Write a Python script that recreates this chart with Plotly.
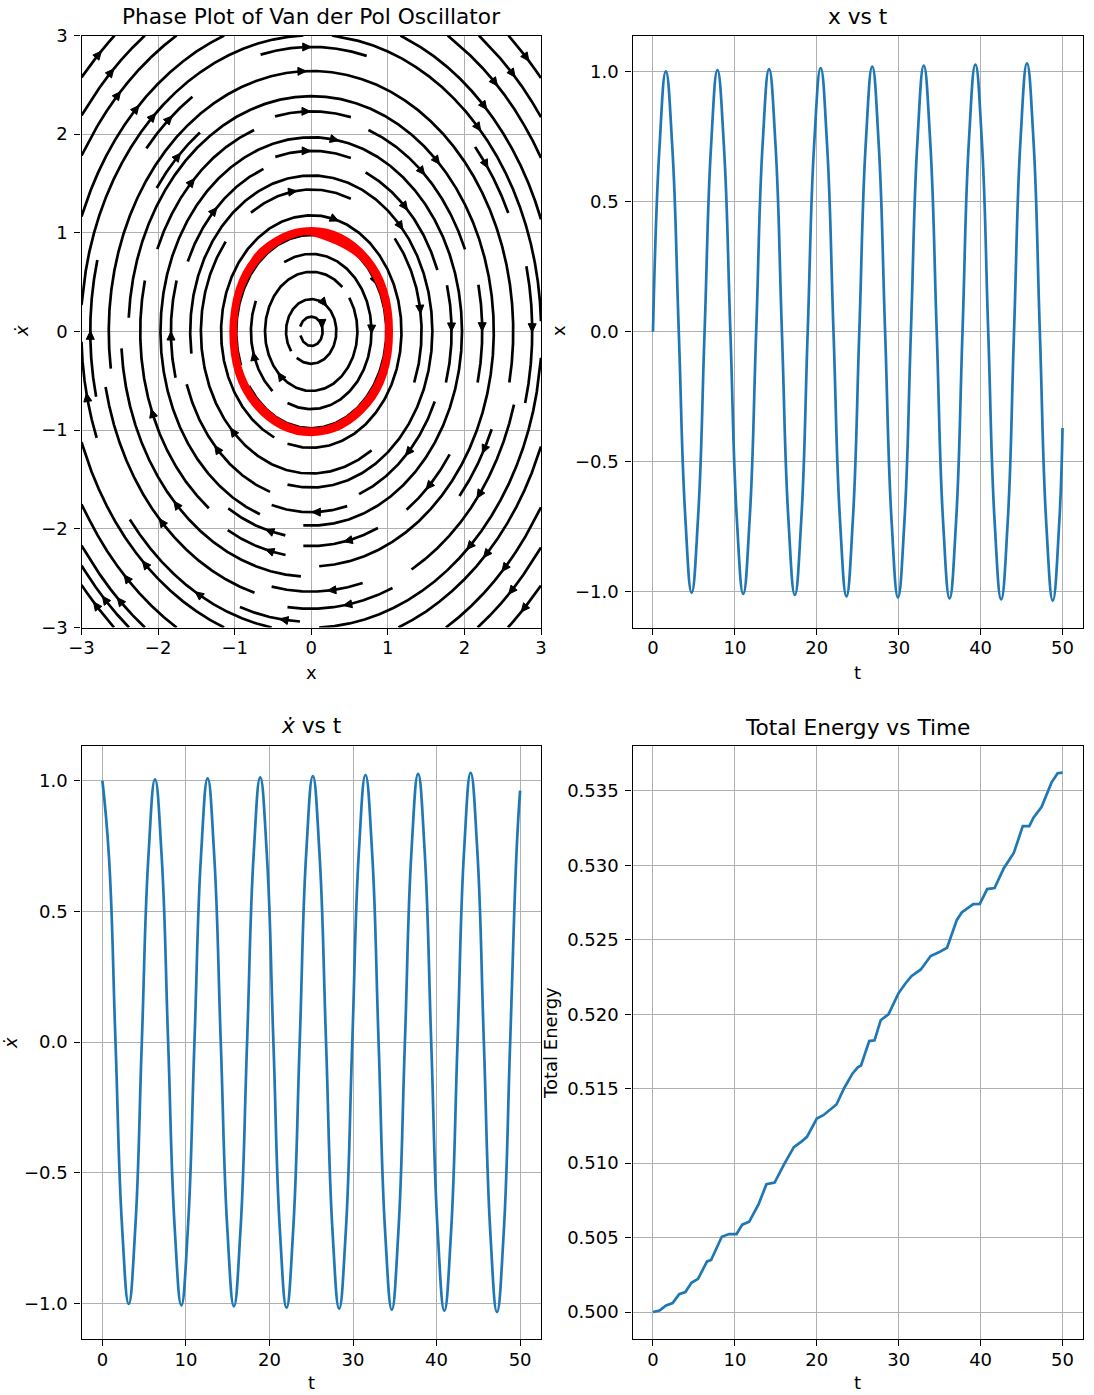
import numpy as np
import plotly.graph_objects as go

# ------------------------------------------------------------------ data
t_vals = [0.00, 0.79, 1.57, 2.36, 3.15, 3.94, 4.72, 5.51,
          6.30, 7.09, 7.87, 8.66, 9.45, 10.23, 11.02, 11.81,
          12.60, 13.38, 14.17, 14.96, 15.74, 16.53, 17.32, 18.11,
          18.89, 19.68, 20.47, 21.25, 22.04, 22.83, 23.62, 24.40,
          25.19, 25.98, 26.77, 27.55, 28.34, 29.13, 29.91, 30.70,
          31.49, 32.28, 33.06, 33.85, 34.64, 35.42, 36.21, 37.00,
          37.79, 38.57, 39.36, 40.15, 40.93, 41.72, 42.51, 43.30,
          44.08, 44.87, 45.66, 46.45, 47.23, 48.02, 48.81, 49.59, 50.00]

x_vals = [0.000, 0.707, 1.001, 0.709, 0.000, -0.710, -1.003, -0.711,
          0.000, 0.713, 1.006, 0.714, 0.000, -0.715, -1.008, -0.716,
          0.000, 0.717, 1.010, 0.718, 0.000, -0.719, -1.012, -0.720,
          0.000, 0.721, 1.014, 0.722, 0.000, -0.723, -1.017, -0.724,
          0.000, 0.725, 1.019, 0.726, 0.000, -0.727, -1.021, -0.728,
          0.000, 0.729, 1.023, 0.730, 0.000, -0.731, -1.025, -0.732,
          0.000, 0.733, 1.027, 0.734, 0.000, -0.735, -1.029, -0.736,
          0.000, 0.737, 1.032, 0.738, 0.000, -0.739, -1.034, -0.740, -0.370]

xdot_vals = [1.000, 0.707, 0.000, -0.709, -1.002, -0.710, 0.000, 0.711,
             1.005, 0.713, 0.000, -0.714, -1.007, -0.715, 0.000, 0.716,
             1.009, 0.717, 0.000, -0.718, -1.011, -0.719, 0.000, 0.720,
             1.013, 0.721, 0.000, -0.722, -1.016, -0.723, 0.000, 0.724,
             1.018, 0.725, 0.000, -0.726, -1.020, -0.727, 0.000, 0.728,
             1.022, 0.729, 0.000, -0.730, -1.024, -0.731, 0.000, 0.732,
             1.026, 0.733, 0.000, -0.734, -1.028, -0.735, 0.000, 0.736,
             1.030, 0.737, 0.000, -0.738, -1.033, -0.739, 0.000, 0.740, 0.962]

energy_t = [0.0, 0.8, 1.6, 2.4, 3.2, 3.95, 4.7, 5.5, 6.6, 7.1, 8.4, 9.3, 10.2,
            10.9, 11.75, 12.9, 13.85, 14.85, 16.0, 17.2, 18.2, 18.8, 20.0,
            20.8, 22.4, 23.35, 24.35, 25.0, 25.4, 26.4, 27.05, 27.8, 28.75,
            29.95, 30.75, 31.55, 32.7, 33.9, 34.9, 35.9, 37.1, 37.7, 39.1,
            39.9, 40.8, 41.7, 42.85, 44.05, 45.15, 45.95, 46.45, 47.45, 48.65,
            49.4, 50.0]
energy_vals = [0.5000, 0.5001, 0.50045, 0.5006, 0.5012, 0.50134, 0.50196,
               0.50223, 0.5034, 0.5035, 0.50506, 0.50524, 0.50524, 0.50587,
               0.50607, 0.50725, 0.50859, 0.5087, 0.50992, 0.51108, 0.51148,
               0.51177, 0.5130, 0.51322, 0.51394, 0.51505, 0.51601, 0.51644,
               0.51656, 0.5182, 0.51825, 0.5196, 0.5200, 0.52139, 0.52202,
               0.52256, 0.52301, 0.52391, 0.52416, 0.52447, 0.52634, 0.52684,
               0.5274, 0.52742, 0.52841, 0.52848, 0.52983, 0.53084, 0.53264,
               0.53264, 0.5332, 0.53394, 0.53556, 0.53619, 0.53623]

# Van der Pol vector field for the phase portrait
MU = 0.002
field_x = np.linspace(-3, 3, 100)
field_y = np.linspace(-3, 3, 100)

phase_ticks = [-3, -2, -1, 0, 1, 2, 3]
time_ticks = [0, 10, 20, 30, 40, 50]
amp_ticks = [-1.0, -0.5, 0.0, 0.5, 1.0]
energy_ticks = [0.500, 0.505, 0.510, 0.515, 0.520, 0.525, 0.530, 0.535]

# ------------------------------------------------------------------ layout geometry
W, H = 1094, 1395
LEFT = (81.5, 541.0)
RIGHT = (632.5, 1083.0)
TOP = (35.5, 627.5)
BOT = (746.0, 1339.0)


def xdom(c):
    return [c[0] / W, c[1] / W]


def ydom(r):
    return [1 - r[1] / H, 1 - r[0] / H]


# ------------------------------------------------------------------ streamlines (matplotlib-style algorithm)
class _Terminate(Exception):
    pass


class _OutOfBounds(Exception):
    pass


class _Invalid(Exception):
    pass


def compute_streamlines(xv, yv, u, v, density=1.0, minlength=0.1, maxlength=4.0):
    nx, ny = len(xv), len(yv)
    ddx, ddy = xv[1] - xv[0], yv[1] - yv[0]
    mnx = mny = int(30 * density)
    mask = np.zeros((mny, mnx))
    x_g2m = (mnx - 1) / (nx - 1)
    y_g2m = (mny - 1) / (ny - 1)
    ug = u / ddx
    vg = v / ddy
    speed = np.sqrt((ug / (nx - 1)) ** 2 + (vg / (ny - 1)) ** 2)
    st = {"traj": [], "cur": None}

    def within(xi, yi):
        return 0 <= xi <= nx - 1 and 0 <= yi <= ny - 1

    def interp(a, xi, yi):
        x = int(xi)
        y = int(yi)
        xn = x if x == nx - 1 else x + 1
        yn = y if y == ny - 1 else y + 1
        xt = xi - x
        yt = yi - y
        a0 = a[y, x] * (1 - xt) + a[y, xn] * xt
        a1 = a[yn, x] * (1 - xt) + a[yn, xn] * xt
        return a0 * (1 - yt) + a1 * yt

    def g2m(xi, yi):
        return round(xi * x_g2m), round(yi * y_g2m)

    def upd(xm, ym):
        if st["cur"] != (xm, ym):
            if mask[ym, xm] == 0:
                st["traj"].append((ym, xm))
                mask[ym, xm] = 1
                st["cur"] = (xm, ym)
            else:
                raise _Invalid

    def fwd(xi, yi):
        if not within(xi, yi):
            raise _OutOfBounds
        s = interp(speed, xi, yi)
        if s == 0:
            raise _Terminate
        return interp(ug, xi, yi) / s, interp(vg, xi, yi) / s

    def bwd(xi, yi):
        a, b = fwd(xi, yi)
        return -a, -b

    def euler(traj, f):
        xi, yi = traj[-1]
        cx, cy = f(xi, yi)
        if cx == 0:
            dsx = np.inf
        elif cx < 0:
            dsx = xi / -cx
        else:
            dsx = (nx - 1 - xi) / cx
        if cy == 0:
            dsy = np.inf
        elif cy < 0:
            dsy = yi / -cy
        else:
            dsy = (ny - 1 - yi) / cy
        ds = min(dsx, dsy)
        traj.append((xi + cx * ds, yi + cy * ds))
        return ds, traj

    def rk12(x0, y0, f):
        maxerror = 0.003
        maxds = min(1.0 / mnx, 1.0 / mny, 0.1)
        ds = maxds
        stotal = 0.0
        xi, yi = x0, y0
        traj = []
        while True:
            try:
                if within(xi, yi):
                    traj.append((xi, yi))
                else:
                    raise _OutOfBounds
                k1x, k1y = f(xi, yi)
                k2x, k2y = f(xi + ds * k1x, yi + ds * k1y)
            except _OutOfBounds:
                if traj:
                    d, traj = euler(traj, f)
                    stotal += d
                break
            except _Terminate:
                break
            dx1, dy1 = ds * k1x, ds * k1y
            dx2, dy2 = ds * 0.5 * (k1x + k2x), ds * 0.5 * (k1y + k2y)
            error = np.hypot((dx2 - dx1) / (nx - 1), (dy2 - dy1) / (ny - 1))
            if error < maxerror:
                xi += dx2
                yi += dy2
                try:
                    if not within(xi, yi):
                        raise _Invalid
                    upd(*g2m(xi, yi))
                except _Invalid:
                    break
                if stotal + ds > maxlength:
                    break
                stotal += ds
            if error == 0:
                ds = maxds
            else:
                ds = min(maxds, 0.85 * ds * (maxerror / error) ** 0.5)
        return stotal, traj

    def integrate(x0, y0):
        st["traj"] = []
        st["cur"] = None
        try:
            upd(*g2m(x0, y0))
        except _Invalid:
            return None
        stotal = 0.0
        xy = []
        s, t = rk12(x0, y0, bwd)
        stotal += s
        xy += t[::-1]
        st["cur"] = g2m(x0, y0)
        s, t = rk12(x0, y0, fwd)
        stotal += s
        xy += t[1:]
        if stotal > minlength:
            return np.array(xy)
        for (a, b) in st["traj"]:
            mask[a, b] = 0
        return None

    def starts(nxm, nym):
        xfirst, yfirst = 0, 1
        xlast, ylast = nxm - 1, nym - 1
        x, y = 0, 0
        direction = "right"
        for _ in range(nxm * nym):
            yield x, y
            if direction == "right":
                x += 1
                if x >= xlast:
                    xlast -= 1
                    direction = "up"
            elif direction == "up":
                y += 1
                if y >= ylast:
                    ylast -= 1
                    direction = "left"
            elif direction == "left":
                x -= 1
                if x <= xfirst:
                    xfirst += 1
                    direction = "down"
            else:
                y -= 1
                if y <= yfirst:
                    yfirst += 1
                    direction = "right"

    out = []
    for xm, ym in starts(mnx, mny):
        if mask[ym, xm] == 0:
            xg, yg = xm / x_g2m, ym / y_g2m
            t = integrate(xg, yg)
            if t is not None:
                out.append((t[:, 0] * ddx + xv[0], t[:, 1] * ddy + yv[0]))
    return out


FX, FY = np.meshgrid(field_x, field_y)
FU = FY
FV = MU * (1 - FX ** 2) * FY - FX
trajs = compute_streamlines(field_x, field_y, FU, FV)

sx, sy = [], []
ax_, ay_ = [], []
pxx = (LEFT[1] - LEFT[0]) / 6.0   # pixels per data unit in x
pxy = (TOP[1] - TOP[0]) / 6.0     # pixels per data unit in y
for tx, ty in trajs:
    sx += list(tx) + [None]
    sy += list(ty) + [None]
    s = np.cumsum(np.hypot(np.diff(tx), np.diff(ty)))
    n = int(np.searchsorted(s, s[-1] / 2.0))
    tail = np.array([tx[n], ty[n]])
    head = np.array([np.mean(tx[n:n + 2]), np.mean(ty[n:n + 2])])
    d = (head - tail) * np.array([pxx, -pxy])
    L = np.hypot(*d)
    if L == 0:
        continue
    u = d / L
    perp = np.array([-u[1], u[0]])
    tip = -2.5 * u
    base = tip - 8.5 * u
    pts = [tip, base + 4.0 * perp, base - 4.0 * perp, tip]
    for p in pts:
        ax_.append(head[0] + p[0] / pxx)
        ay_.append(head[1] - p[1] / pxy)
    ax_.append(None)
    ay_.append(None)

# ------------------------------------------------------------------ figure
BLUE = "#1f77b4"
FONT = "DejaVu Sans"
TICK_SIZE = 18
TITLE_SIZE = 21.7
fig = go.Figure()

fig.add_trace(go.Scatter(x=sx, y=sy, mode="lines", line=dict(color="black", width=2.7),
                         xaxis="x", yaxis="y", hoverinfo="skip", showlegend=False))
fig.add_trace(go.Scatter(x=ax_, y=ay_, mode="lines", fill="toself", fillcolor="black",
                         line=dict(color="black", width=1), xaxis="x", yaxis="y",
                         hoverinfo="skip", showlegend=False))
fig.add_trace(go.Scatter(x=x_vals, y=xdot_vals, mode="lines",
                         line=dict(color="red", width=5.5, shape="spline", smoothing=1.15),
                         xaxis="x", yaxis="y", showlegend=False))
fig.add_trace(go.Scatter(x=t_vals, y=x_vals, mode="lines",
                         line=dict(color=BLUE, width=2.7, shape="spline", smoothing=1.3),
                         xaxis="x2", yaxis="y2", showlegend=False))
fig.add_trace(go.Scatter(x=t_vals, y=xdot_vals, mode="lines",
                         line=dict(color=BLUE, width=2.7, shape="spline", smoothing=1.3),
                         xaxis="x3", yaxis="y3", showlegend=False))
fig.add_trace(go.Scatter(x=energy_t, y=energy_vals, mode="lines",
                         line=dict(color=BLUE, width=2.7),
                         xaxis="x4", yaxis="y4", showlegend=False))

common = dict(showline=True, mirror=True, linecolor="black", linewidth=1.4,
              ticks="outside", ticklen=6, tickwidth=1.4, tickcolor="black",
              showgrid=True, gridcolor="#b0b0b0", gridwidth=1.4, zeroline=False,
              tickfont=dict(family=FONT, size=TICK_SIZE, color="black"),
              automargin=False)
xcommon = dict(common, ticklabelstandoff=-2)
ycommon = dict(common, ticklabelstandoff=3)

fig.update_layout(
    width=W, height=H, autosize=False,
    margin=dict(l=0, r=0, t=0, b=0, autoexpand=False),
    paper_bgcolor="white", plot_bgcolor="white",
    font=dict(family=FONT, size=TICK_SIZE, color="black"),
    showlegend=False,
    xaxis=dict(domain=xdom(LEFT), range=[-3, 3], tickvals=phase_ticks, anchor="y", **xcommon),
    yaxis=dict(domain=ydom(TOP), range=[-3, 3], tickvals=phase_ticks, anchor="x", **ycommon),
    xaxis2=dict(domain=xdom(RIGHT), range=[-2.5, 52.5], tickvals=time_ticks, anchor="y2", **xcommon),
    yaxis2=dict(domain=ydom(TOP), range=[-1.137, 1.139], tickvals=amp_ticks, tickformat=".1f",
                anchor="x2", **ycommon),
    xaxis3=dict(domain=xdom(LEFT), range=[-2.5, 52.5], tickvals=time_ticks, anchor="y3", **xcommon),
    yaxis3=dict(domain=ydom(BOT), range=[-1.136, 1.133], tickvals=amp_ticks, tickformat=".1f",
                anchor="x3", **ycommon),
    xaxis4=dict(domain=xdom(RIGHT), range=[-2.5, 52.5], tickvals=time_ticks, anchor="y4", **xcommon),
    yaxis4=dict(domain=ydom(BOT), range=[0.49819, 0.53802], tickvals=energy_ticks, tickformat=".3f",
                anchor="x4", **ycommon),
)


def ann(text, px, py, size=TICK_SIZE, angle=0):
    fig.add_annotation(text=text, x=px / W, y=1 - py / H, xref="paper", yref="paper",
                       showarrow=False, textangle=angle, xanchor="center", yanchor="middle",
                       font=dict(family=FONT, size=size, color="black"))


# titles
ann("Phase Plot of Van der Pol Oscillator", (LEFT[0] + LEFT[1]) / 2, 16, size=TITLE_SIZE)
ann("x vs t", (RIGHT[0] + RIGHT[1]) / 2, 16, size=TITLE_SIZE)
ann("<i>ẋ</i> vs t", (LEFT[0] + LEFT[1]) / 2, 725, size=TITLE_SIZE)
ann("Total Energy vs Time", (RIGHT[0] + RIGHT[1]) / 2, 727, size=TITLE_SIZE)
# x labels
ann("x", (LEFT[0] + LEFT[1]) / 2, 672)
ann("t", (RIGHT[0] + RIGHT[1]) / 2, 672)
ann("t", (LEFT[0] + LEFT[1]) / 2, 1382)
ann("t", (RIGHT[0] + RIGHT[1]) / 2, 1382)
# y labels
ann("<i>ẋ</i>", 22, 331, angle=-90)
ann("x", 559, 331, angle=-90)
ann("<i>ẋ</i>", 10, 1043, angle=-90)
ann("Total Energy", 550, 1043, angle=-90)

fig.write_html("out.html")
